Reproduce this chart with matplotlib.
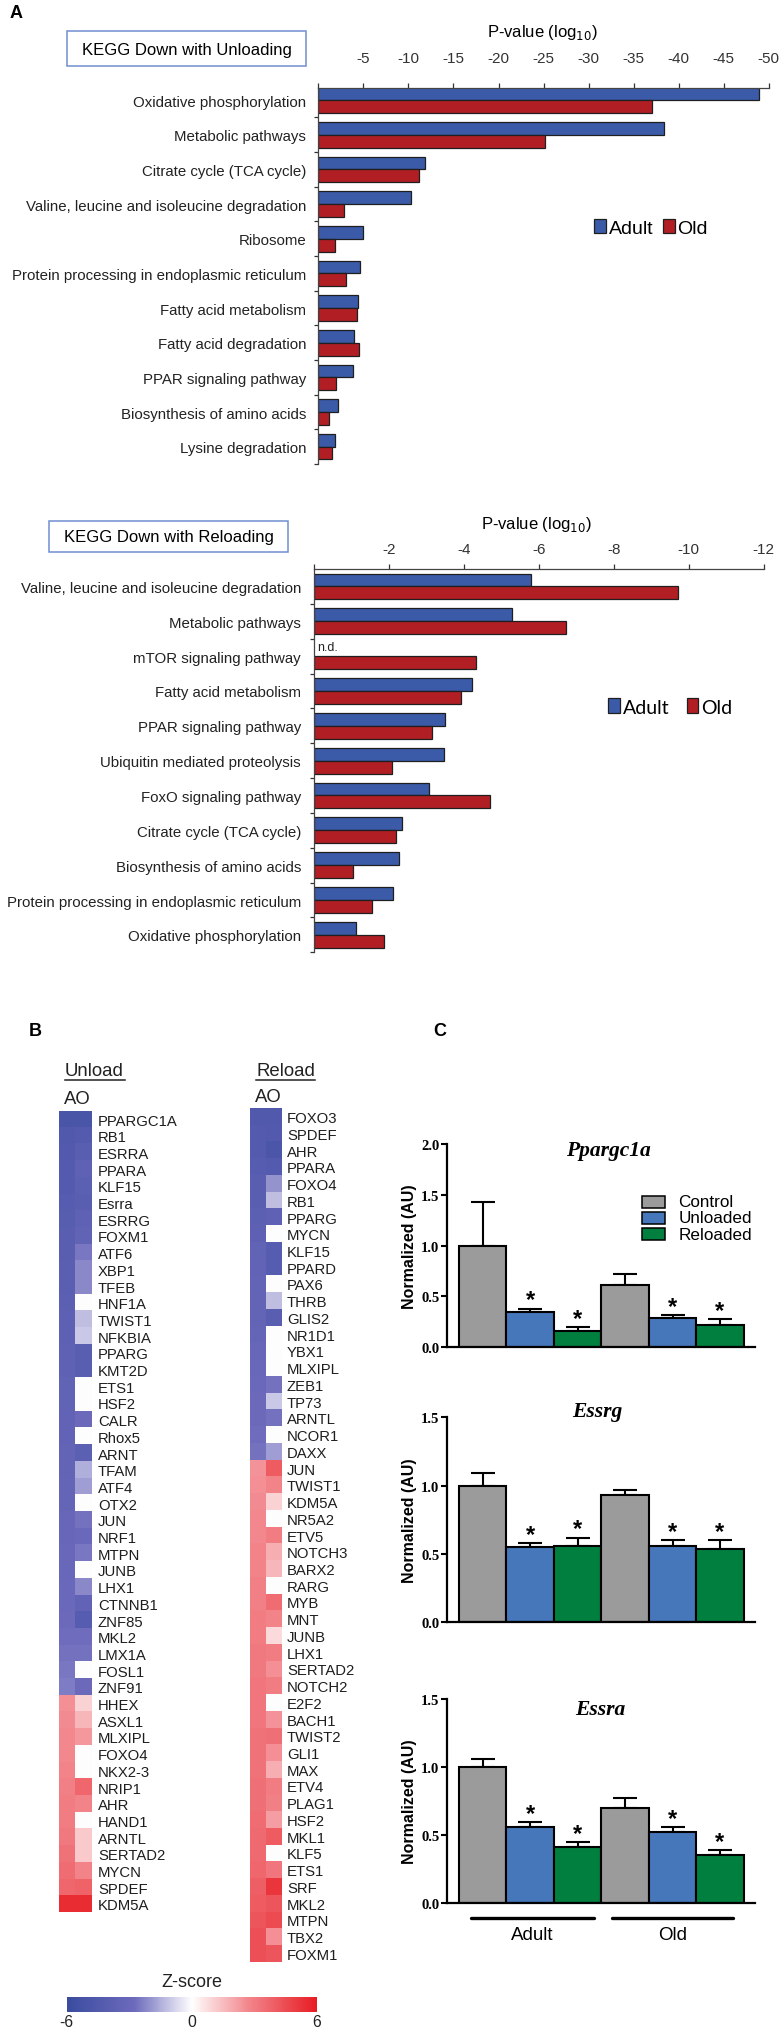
import numpy as np
import matplotlib
matplotlib.use('Agg')
import matplotlib.pyplot as plt
import matplotlib.cm as cm
from matplotlib.colors import LinearSegmentedColormap, Normalize
from matplotlib.patches import Rectangle
from matplotlib.lines import Line2D

W, H = 780, 2033
plt.rcParams['font.family'] = ['Liberation Sans', 'DejaVu Sans']

# ---------------- panel A : KEGG terms, log10 p-values ----------------
unload_terms = ['Oxidative phosphorylation', 'Metabolic pathways', 'Citrate cycle (TCA cycle)',
                'Valine, leucine and isoleucine degradation', 'Ribosome',
                'Protein processing in endoplasmic reticulum', 'Fatty acid metabolism',
                'Fatty acid degradation', 'PPAR signaling pathway', 'Biosynthesis of amino acids',
                'Lysine degradation']
unload_adult = [-48.9, -38.4, -11.8, -10.3, -4.9, -4.6, -4.4, -4.0, -3.8, -2.2, -1.8]
unload_old = [-37.0, -25.2, -11.2, -2.8, -1.8, -3.1, -4.3, -4.5, -1.9, -1.2, -1.5]

reload_terms = ['Valine, leucine and isoleucine degradation', 'Metabolic pathways',
                'mTOR signaling pathway', 'Fatty acid metabolism', 'PPAR signaling pathway',
                'Ubiquitin mediated proteolysis', 'FoxO signaling pathway',
                'Citrate cycle (TCA cycle)', 'Biosynthesis of amino acids',
                'Protein processing in endoplasmic reticulum', 'Oxidative phosphorylation']
reload_adult = [-5.78, -5.29, np.nan, -4.20, -3.48, -3.46, -3.07, -2.34, -2.26, -2.10, -1.10]
reload_old = [-9.70, -6.71, -4.32, -3.92, -3.14, -2.07, -4.69, -2.18, -1.04, -1.53, -1.87]

# ---------------- panel B : z-scores (A = adult, O = old) ----------------
unload_genes = ['PPARGC1A', 'RB1', 'ESRRA', 'PPARA', 'KLF15', 'Esrra', 'ESRRG', 'FOXM1', 'ATF6',
                'XBP1', 'TFEB', 'HNF1A', 'TWIST1', 'NFKBIA', 'PPARG', 'KMT2D', 'ETS1', 'HSF2',
                'CALR', 'Rhox5', 'ARNT', 'TFAM', 'ATF4', 'OTX2', 'JUN', 'NRF1', 'MTPN', 'JUNB',
                'LHX1', 'CTNNB1', 'ZNF85', 'MKL2', 'LMX1A', 'FOSL1', 'ZNF91', 'HHEX', 'ASXL1',
                'MLXIPL', 'FOXO4', 'NKX2-3', 'NRIP1', 'AHR', 'HAND1', 'ARNTL', 'SERTAD2', 'MYCN',
                'SPDEF', 'KDM5A']
unload_A = [-5.0, -4.5, -4.4, -4.3, -4.3, -4.2, -4.1, -4.0, -4.0, -3.9, -3.9, -3.8, -3.7, -3.7,
            -3.6, -3.6, -3.5, -3.5, -3.4, -3.4, -3.3, -3.3, -3.2, -3.2, -3.1, -3.1, -3.0, -3.0,
            -2.9, -2.9, -2.8, -2.7, -2.6, -2.5, -2.4, 2.5, 2.6, 2.7, 2.7, 2.8, 2.9, 3.0, 3.0,
            3.1, 3.3, 3.5, 3.7, 5.5]
unload_O = [-5.0, -4.3, -4.0, -3.6, -3.8, -4.0, -3.6, -3.5, -2.5, -2.2, -2.2, 0.0, -1.2, -1.0,
            -4.0, -4.0, 0.0, 0.0, -2.8, 0.0, -3.8, -1.5, -1.8, 0.0, -2.6, -2.9, -2.5, 0.0,
            -2.2, -3.4, -4.2, -2.7, -2.6, 0.0, -2.8, 1.0, 1.6, 2.3, 0.0, 0.0, 3.7, 2.8, 0.0,
            1.2, 1.2, 2.8, 3.8, 5.5]

reload_genes = ['FOXO3', 'SPDEF', 'AHR', 'PPARA', 'FOXO4', 'RB1', 'PPARG', 'MYCN', 'KLF15',
                'PPARD', 'PAX6', 'THRB', 'GLIS2', 'NR1D1', 'YBX1', 'MLXIPL', 'ZEB1', 'TP73',
                'ARNTL', 'NCOR1', 'DAXX', 'JUN', 'TWIST1', 'KDM5A', 'NR5A2', 'ETV5', 'NOTCH3',
                'BARX2', 'RARG', 'MYB', 'MNT', 'JUNB', 'LHX1', 'SERTAD2', 'NOTCH2', 'E2F2',
                'BACH1', 'TWIST2', 'GLI1', 'MAX', 'ETV4', 'PLAG1', 'HSF2', 'MKL1', 'KLF5', 'ETS1',
                'SRF', 'MKL2', 'MTPN', 'TBX2', 'FOXM1']
reload_A = [-4.5, -4.3, -4.3, -4.2, -4.0, -4.0, -3.8, -3.7, -3.5, -3.4, -3.3, -3.3, -3.3, -3.2,
            -3.1, -3.0, -2.9, -2.8, -2.8, -2.7, -2.6, 2.4, 2.5, 2.6, 2.7, 2.7, 2.8, 2.8, 2.9,
            2.9, 3.0, 3.0, 3.1, 3.1, 3.2, 3.2, 3.2, 3.3, 3.3, 3.3, 3.4, 3.4, 3.5, 3.6, 3.6,
            3.7, 3.9, 4.0, 4.2, 4.4, 4.4]
reload_O = [-4.5, -4.4, -4.8, -4.3, -2.0, -1.2, -3.6, 0.0, -4.2, -4.2, 0.0, -1.2, -4.0, 0.0,
            0.0, 0.0, -2.6, -1.0, -2.6, 0.0, -1.8, 4.0, 2.8, 1.0, 0.0, 3.0, 1.8, 1.6, 0.0,
            3.5, 2.8, 0.8, 3.0, 2.5, 3.0, 0.0, 2.4, 3.4, 2.5, 1.8, 3.0, 2.9, 2.2, 4.0, 0.0,
            3.2, 5.2, 4.2, 4.5, 2.5, 4.2]

# ---------------- panel C : qPCR, Adult then Old ----------------
conditions = ['Control', 'Unloaded', 'Reloaded']
ppargc1a_mean = [1.00, 0.35, 0.16, 0.61, 0.29, 0.22]
ppargc1a_err = [0.43, 0.03, 0.04, 0.115, 0.03, 0.055]
essrg_mean = [1.00, 0.55, 0.556, 0.93, 0.558, 0.54]
essrg_err = [0.09, 0.028, 0.064, 0.04, 0.046, 0.06]
essra_mean = [1.00, 0.556, 0.41, 0.70, 0.52, 0.35]
essra_err = [0.06, 0.037, 0.036, 0.07, 0.037, 0.037]
signif = [False, True, True, False, True, True]

BLUE = '#3b5ba9'
RED = '#b11e24'
EDGE = '#1f1f1f'
C_COLS = ['#9b9b9b', '#4677bb', '#007f3f']

fig = plt.figure(figsize=(W / 100, H / 100), dpi=100)


def add_ax(l, t, r, b):
    return fig.add_axes([l / W, 1 - b / H, (r - l) / W, (b - t) / H])


def ftext(x, y, s, **kw):
    return fig.text(x / W, 1 - y / H, s, **kw)


def fbox(l, t, r, b, **kw):
    fig.add_artist(Rectangle((l / W, 1 - b / H), (r - l) / W, (b - t) / H,
                             transform=fig.transFigure, **kw))


def kegg(ax, terms, adult, old, xmax, step, ytop, tpad, lpad):
    n = len(terms)
    y = np.arange(n) + 0.5
    ba = ax.barh(y - 0.185, adult, height=0.37, color=BLUE, edgecolor=EDGE, lw=0.9)
    bo = ax.barh(y + 0.185, old, height=0.37, color=RED, edgecolor=EDGE, lw=0.9)
    ax.set_xlim(0, -xmax)
    ax.set_ylim(n, ytop)
    ax.xaxis.tick_top()
    ticks = np.arange(0, -xmax - step / 2, -step)
    ax.set_xticks(ticks)
    ax.set_xticklabels([''] + ['%d' % t for t in ticks[1:]], fontsize=11)
    ax.tick_params(axis='x', direction='out', length=3.5, width=0.9, pad=tpad, colors='#333')
    ax.set_yticks(y)
    ax.set_yticklabels(terms, fontsize=10.8, color='#222')
    ax.tick_params(axis='y', length=0, pad=lpad)
    ax.set_yticks(np.arange(1, n + 1), minor=True)
    ax.tick_params(axis='y', which='minor', length=3, width=0.9, direction='out', color='#333')
    for s in ['right', 'bottom']:
        ax.spines[s].set_visible(False)
    for s in ['left', 'top']:
        ax.spines[s].set_color('#444')
        ax.spines[s].set_linewidth(0.9)
    return ba, bo


# ---- A top
ax1 = add_ax(318.4, 89.3, 768.7, 465)
ba, bo = kegg(ax1, unload_terms, unload_adult, unload_old, 50, 5, 0.16, 13.5, 8.7)
ax1.legend([ba, bo], ['Adult', 'Old'], loc='center left', ncol=2, frameon=False,
           bbox_to_anchor=(594 / W, 1 - 229 / H), bbox_transform=fig.transFigure,
           borderpad=0, borderaxespad=0, handlelength=0.6, handleheight=0.75,
           handletextpad=0.15, columnspacing=0.5, fontsize=14)
fbox(67, 32, 306, 67, fill=False, ec='#6f8fd0', lw=1.1)
ftext(186.5, 50, 'KEGG Down with Unloading', ha='center', va='center', fontsize=12)
ftext(542, 33, 'P-value (log$_{10}$)', ha='center', va='center', fontsize=12)

# ---- A bottom
ax2 = add_ax(314.4, 570, 763.7, 953.3)
ba, bo = kegg(ax2, reload_terms, reload_adult, reload_old, 12, 2, 0, 6, 9.6)
ax2.text(-0.07, 2.24, 'n.d.', ha='left', va='center', fontsize=9, color='#222')
ax2.legend([ba, bo], ['Adult', 'Old'], loc='center left', ncol=2, frameon=False,
           bbox_to_anchor=(608 / W, 1 - 708 / H), bbox_transform=fig.transFigure,
           borderpad=0, borderaxespad=0, handlelength=0.6, handleheight=0.8,
           handletextpad=0.15, columnspacing=0.9, prop={'family': 'Lato', 'size': 14})
fbox(49, 521.7, 288, 553.3, fill=False, ec='#6f8fd0', lw=1.1)
ftext(168.5, 537.5, 'KEGG Down with Reloading', ha='center', va='center', fontsize=12)
ftext(536, 525, 'P-value (log$_{10}$)', ha='center', va='center', fontsize=12)

ftext(16, 14, 'A', ha='center', va='center', fontsize=13, weight='bold')

# ---------------- panel B heatmaps ----------------
cmap = LinearSegmentedColormap.from_list(
    'z', [(0.0, '#3a4c9f'), (0.27, '#6d6abc'), (0.5, '#ffffff'), (0.73, '#f2858b'), (1.0, '#e81c24')])
norm = Normalize(-6, 6)


def heat(ax, genes, colA, colO, pad):
    data = np.column_stack([colA, colO])
    ax.imshow(data, cmap=cmap, norm=norm, aspect='auto', interpolation='nearest')
    ax.set_xticks([])
    ax.yaxis.tick_right()
    ax.set_yticks(np.arange(len(genes)))
    ax.set_yticklabels(genes, fontsize=10.7, color='#1e1e1e')
    ax.tick_params(axis='y', length=0, pad=pad)
    for s in ax.spines.values():
        s.set_visible(False)


hu = add_ax(59.3, 1111.7, 92.3, 1913.3)
heat(hu, unload_genes, unload_A, unload_O, 4.1)
hr = add_ax(250, 1109.3, 281.7, 1962.7)
heat(hr, reload_genes, reload_A, reload_O, 3.8)

ftext(35, 1031, 'B', ha='center', va='center', fontsize=13, weight='bold')
for x0, x1, lab in [(65, 125, 'Unload'), (256, 315, 'Reload')]:
    ftext(x0, 1072, lab, ha='left', va='center', fontsize=13.4, color='#222')
    fig.add_artist(Line2D([x0 / W, x1 / W], [1 - 1080.5 / H] * 2, transform=fig.transFigure,
                          color='#222', lw=1.1))
ftext(64, 1099, 'AO', ha='left', va='center', fontsize=13.3, color='#222')
ftext(255, 1098, 'AO', ha='left', va='center', fontsize=13.3, color='#222')

cax = add_ax(66.7, 1998.3, 316.7, 2013.3)
cb = fig.colorbar(cm.ScalarMappable(norm=norm, cmap=cmap), cax=cax, orientation='horizontal',
                  ticks=[-6, 0, 6])
cb.outline.set_visible(False)
cb.set_ticklabels(['-6', '0', '6'])
cax.tick_params(length=0, pad=1, labelsize=11.3, labelcolor='#222')
ftext(191.7, 1983, 'Z-score', ha='center', va='center', fontsize=13, color='#222')

# ---------------- panel C bar charts ----------------
SERIF = ['Liberation Serif', 'DejaVu Serif']


def expr(ax, title, tx, ty, means, errs, ymax):
    x = np.arange(len(means))
    cols = C_COLS * 2
    ax.bar(x, means, width=1.0, color=cols, edgecolor='black', lw=1.5, zorder=2)
    ax.errorbar(x, means, yerr=[np.zeros(len(x)), errs], fmt='none', ecolor='black',
                elinewidth=1.5, capsize=8.5, capthick=1.5, zorder=1)
    for xi, m, e, s in zip(x, means, errs, signif):
        if s:
            ax.annotate('*', (xi, m + e), xytext=(0, -2), textcoords='offset points',
                        ha='center', va='bottom', fontsize=17, weight='bold')
    ax.set_xlim(-0.747, 5.738)
    ax.set_ylim(0, ymax)
    ax.set_xticks([])
    ax.set_yticks(np.arange(0, ymax + 0.01, 0.5))
    ax.set_yticklabels(['%.1f' % v for v in np.arange(0, ymax + 0.01, 0.5)],
                       family=SERIF, weight='bold', fontsize=10.5)
    ax.tick_params(axis='y', direction='out', length=4.1, width=1.5, pad=1.5)
    for s in ['top', 'right']:
        ax.spines[s].set_visible(False)
    for s in ['left', 'bottom']:
        ax.spines[s].set_linewidth(1.6)
    ax.set_ylabel('Normalized (AU)', fontsize=11.5, weight='bold', labelpad=3)
    ax.text(tx, ty, title, transform=ax.transAxes, ha='center', va='center',
            family=SERIF, style='italic', weight='bold', fontsize=15.5)


c1 = add_ax(447.3, 1145, 755, 1348.3)
expr(c1, 'Ppargc1a', 0.522, 0.972, ppargc1a_mean, ppargc1a_err, 2.0)
c2 = add_ax(447.3, 1418.3, 755, 1623.3)
expr(c2, 'Essrg', 0.487, 1.032, essrg_mean, essrg_err, 1.5)
c3 = add_ax(447.3, 1700, 755, 1904)
expr(c3, 'Essra', 0.496, 0.951, essra_mean, essra_err, 1.5)

for i, (lab, col) in enumerate(zip(conditions, C_COLS)):
    cy = 1202.7 + i * 16.2
    fbox(642.3, cy - 6, 665, cy + 6, fc=col, ec='black', lw=1.1)
    ftext(678.3, cy, lab, ha='left', va='center', fontsize=12.3)

tr = c3.get_xaxis_transform()
for x0, x1, lab in [(-0.25, 2.35, 'Adult'), (2.73, 5.27, 'Old')]:
    c3.plot([x0, x1], [-0.0735, -0.0735], transform=tr, clip_on=False, color='black',
            lw=2.4, solid_capstyle='round')
    c3.text((x0 + x1) / 2, -0.152, lab, transform=tr, ha='center', va='center', fontsize=13.5)

ftext(440, 1032, 'C', ha='center', va='center', fontsize=13, weight='bold')

fig.savefig('out.png', dpi=100, facecolor='white')
